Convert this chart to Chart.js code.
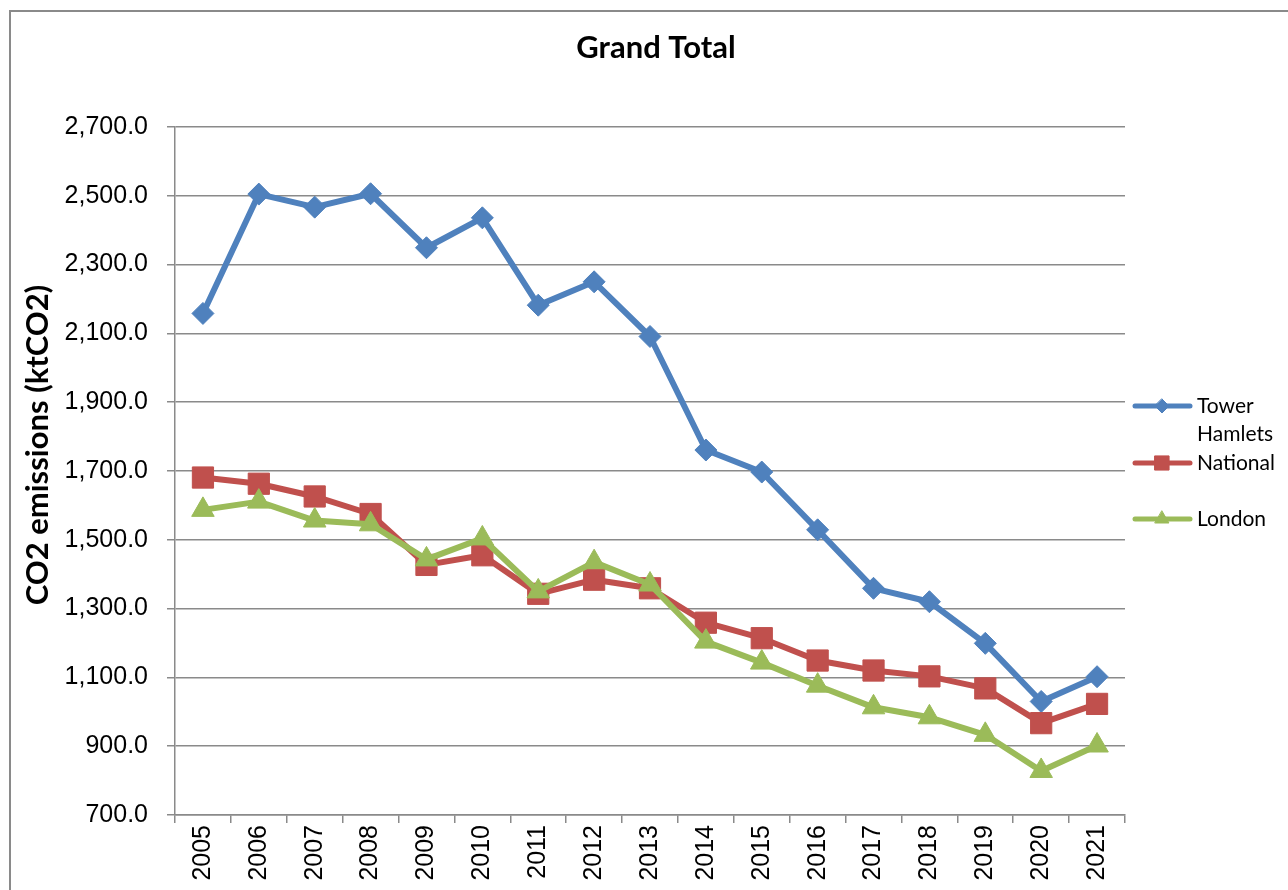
<!DOCTYPE html>
<html>
<head>
<meta charset="utf-8">
<script src="https://cdn.jsdelivr.net/npm/chart.js@4/dist/chart.umd.min.js"></script>
<style>
  html, body { margin: 0; padding: 0; background: #fff; }
  #wrap { width: 1288px; height: 890px; position: relative; }
</style>
</head>
<body>
<div id="wrap"><canvas id="c" width="1288" height="890"></canvas></div>
<script>
const chartTitle = 'Grand Total';
const yAxisTitle = 'CO2 emissions (ktCO2)';
const years = ['2005','2006','2007','2008','2009','2010','2011','2012','2013','2014','2015','2016','2017','2018','2019','2020','2021'];
const towerHamlets = [2158, 2505, 2467, 2506, 2349, 2436, 2182, 2250, 2091, 1761, 1697, 1529, 1359, 1320, 1199, 1030, 1102];
const national     = [1681, 1663, 1626, 1575, 1427, 1455, 1343, 1384, 1359, 1259, 1214, 1149, 1120, 1103, 1068, 967, 1023];
const london       = [1587, 1611, 1556, 1545, 1443, 1504, 1350, 1435, 1370, 1204, 1143, 1076, 1013, 984, 933, 828, 902];
const seriesNames  = ['Tower Hamlets', 'National', 'London'];
const yMin = 700, yMax = 2700, yStep = 200;

const BLUE = '#4F81BD', RED = '#C0504D', GREEN = '#9BBB59', GRID = '#8a8a8a';

function ds(label, data, color, style, radius, order) {
  return {
    label, data, order,
    borderColor: color, backgroundColor: color,
    borderWidth: 6, borderJoinStyle: 'round', borderCapStyle: 'round',
    pointStyle: style, pointRadius: radius, pointHoverRadius: radius,
    pointBorderWidth: 1, pointBorderColor: color, pointBackgroundColor: color,
    tension: 0, fill: false
  };
}

function drawMarker(ctx, style, color, r, x, y) {
  ctx.save();
  ctx.fillStyle = color; ctx.strokeStyle = color; ctx.lineWidth = 1;
  ctx.beginPath();
  if (style === 'rectRot') {
    ctx.moveTo(x, y - r); ctx.lineTo(x + r, y); ctx.lineTo(x, y + r); ctx.lineTo(x - r, y);
  } else if (style === 'rect') {
    const s = r * Math.SQRT1_2; ctx.rect(x - s, y - s, 2 * s, 2 * s);
  } else {
    const h = r;
    ctx.moveTo(x, y - h); ctx.lineTo(x + h * Math.sin(2 * Math.PI / 3), y + h / 2); ctx.lineTo(x - h * Math.sin(2 * Math.PI / 3), y + h / 2);
  }
  ctx.closePath(); ctx.fill(); ctx.stroke();
  ctx.restore();
}

const deco = {
  id: 'deco',
  afterDraw(chart) {
    const ctx = chart.ctx;
    ctx.save();
    ctx.strokeStyle = GRID; ctx.lineWidth = 2;
    ctx.strokeRect(10, 11, 1400, 1000);
    ctx.fillStyle = '#000';
    ctx.textAlign = 'center'; ctx.textBaseline = 'middle';
    ctx.font = 'bold 31px Lato';
    ctx.fillText(chartTitle, 656, 48);
    ctx.save();
    ctx.translate(38, 445); ctx.rotate(-Math.PI / 2);
    ctx.font = 'bold 31px Lato';
    ctx.fillText(yAxisTitle, 0, 0);
    ctx.restore();
    // legend
    const items = [
      { lines: ['Tower', 'Hamlets'], color: BLUE, style: 'rectRot', r: 7, y: 406 },
      { lines: ['National'], color: RED, style: 'rect', r: 10, y: 463 },
      { lines: ['London'], color: GREEN, style: 'triangle', r: 8, y: 519 }
    ];
    ctx.font = '21px Lato'; ctx.textAlign = 'left';
    items.forEach(it => {
      ctx.strokeStyle = it.color; ctx.lineWidth = 5; ctx.lineCap = 'round';
      ctx.beginPath(); ctx.moveTo(1135, it.y); ctx.lineTo(1190, it.y); ctx.stroke();
      drawMarker(ctx, it.style, it.color, it.r, 1162, it.y);
      ctx.fillStyle = '#000';
      it.lines.forEach((t, k) => ctx.fillText(t, 1197, it.y + k * 28));
    });
    ctx.restore();
  }
};

new Chart(document.getElementById('c'), {
  type: 'line',
  data: {
    labels: years,
    datasets: [
      ds(seriesNames[0], towerHamlets, BLUE, 'rectRot', 11, 3),
      ds(seriesNames[1], national, RED, 'rect', 15, 2),
      ds(seriesNames[2], london, GREEN, 'triangle', 13, 1)
    ]
  },
  options: {
    responsive: false,
    animation: false,
    layout: { padding: { left: 0, right: 163, top: 127, bottom: 0 } },
    plugins: { legend: { display: false }, title: { display: false }, tooltip: { enabled: false } },
    scales: {
      x: {
        offset: true,
        grid: { offset: true, drawOnChartArea: false, drawTicks: true, tickLength: 8, color: GRID, lineWidth: 1.5 },
        border: { display: true, color: GRID, width: 1.5 },
        ticks: { autoSkip: false, minRotation: 90, maxRotation: 90, padding: 2, color: '#000', font: { family: 'Liberation Sans', size: 25 } },
        afterFit(s) { s.height = 75; }
      },
      y: {
        min: yMin, max: yMax,
        grid: { color: GRID, lineWidth: 1.5, tickLength: 8, drawTicks: true },
        border: { display: true, color: GRID, width: 1.5 },
        ticks: {
          stepSize: yStep, padding: 19, color: '#000', font: { family: 'Liberation Sans', size: 25 },
          callback: v => Number(v).toLocaleString('en-US', { minimumFractionDigits: 1, maximumFractionDigits: 1 })
        },
        afterFit(s) { s.width = 175; }
      }
    }
  },
  plugins: [deco]
});
</script>
</body>
</html>
